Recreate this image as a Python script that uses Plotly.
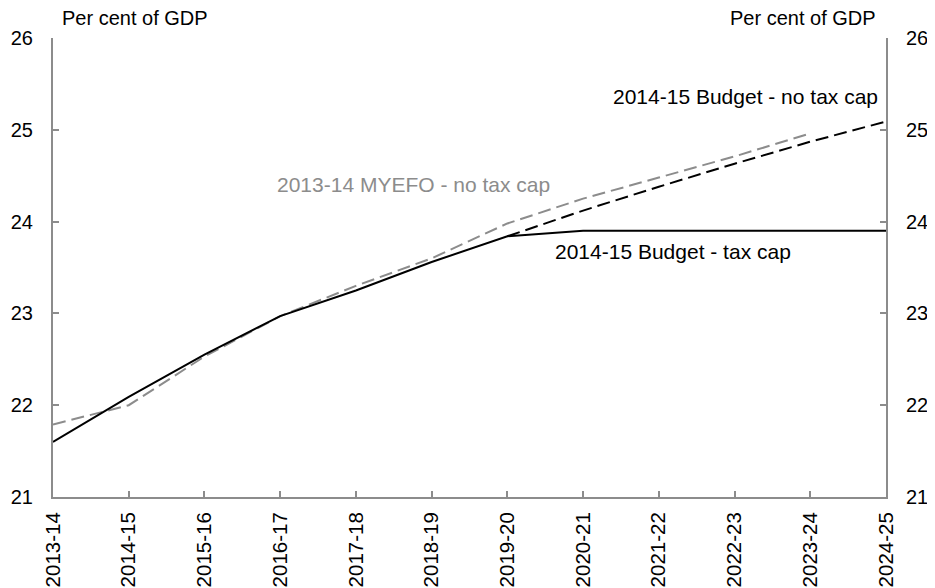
import plotly.graph_objects as go

years = ["2013-14", "2014-15", "2015-16", "2016-17", "2017-18", "2018-19",
         "2019-20", "2020-21", "2021-22", "2022-23", "2023-24", "2024-25"]

myefo_no_cap = [21.79, 22.00, 22.53, 22.97, 23.30, 23.60, 23.98, 24.25, 24.48, 24.71, 24.96, None]
budget_no_cap = [None, None, None, None, None, None, 23.84, 24.12, 24.38, 24.63, 24.87, 25.09]
budget_cap = [21.60, 22.09, 22.55, 22.97, 23.25, 23.56, 23.84, 23.90, 23.90, 23.90, 23.90, 23.90]

FONT = "Arial, Liberation Sans, sans-serif"
GREY = "#8c8c8c"
AXIS = "#8c8c8c"

fig = go.Figure()
fig.add_trace(go.Scatter(x=years, y=myefo_no_cap, mode="lines",
                         line=dict(color=GREY, width=2, dash="13px,6px"),
                         connectgaps=False, showlegend=False))
fig.add_trace(go.Scatter(x=years, y=budget_no_cap, mode="lines",
                         line=dict(color="black", width=2, dash="13px,6px"),
                         showlegend=False))
fig.add_trace(go.Scatter(x=years, y=budget_cap, mode="lines",
                         line=dict(color="black", width=2),
                         showlegend=False))
# invisible trace for right axis
fig.add_trace(go.Scatter(x=years, y=budget_cap, mode="lines", yaxis="y2",
                         line=dict(width=0), hoverinfo="skip", showlegend=False,
                         opacity=0))

fig.update_layout(
    width=935, height=588,
    margin=dict(l=45, r=57, t=30, b=99, autoexpand=False),
    paper_bgcolor="white", plot_bgcolor="white",
    font=dict(family=FONT, size=20, color="black"),
    xaxis=dict(type="category", range=[0, 11], showgrid=False, zeroline=False,
               showline=True, linecolor=AXIS, linewidth=2, automargin=False,
               ticks="inside", ticklen=6, tickcolor=AXIS, tickwidth=1.5,
               ticklabelstandoff=5, tickangle=-90, tickfont=dict(size=20.5)),
    yaxis=dict(range=[21, 26], dtick=1, showgrid=False, zeroline=False,
               showline=True, linecolor=AXIS, linewidth=2, automargin=False,
               ticks="inside", ticklen=6, tickcolor=AXIS, tickwidth=1.5,
               ticklabelstandoff=14, tickfont=dict(size=20)),
    yaxis2=dict(range=[21, 26], dtick=1, overlaying="y", side="right",
                showgrid=False, zeroline=False, automargin=False,
                showline=True, linecolor=AXIS, linewidth=2,
                ticks="inside", ticklen=6, tickcolor=AXIS, tickwidth=1.5,
                ticklabelstandoff=14, tickfont=dict(size=20)),
    annotations=[
        dict(text="Per cent of GDP", xref="paper", yref="paper", x=0.009, y=1.0,
             xanchor="left", yanchor="bottom", yshift=7, showarrow=False,
             font=dict(size=20)),
        dict(text="Per cent of GDP", xref="paper", yref="paper", x=0.99, y=1.0,
             xanchor="right", yanchor="bottom", yshift=7, showarrow=False,
             font=dict(size=20)),
        dict(text="2014-15 Budget - no tax cap", xref="x", yref="y", x=10.92, y=25.36,
             xanchor="right", yanchor="middle", showarrow=False, font=dict(size=21)),
        dict(text="2013-14 MYEFO - no tax cap", xref="x", yref="y", x=2.93, y=24.4,
             xanchor="left", yanchor="middle", showarrow=False,
             font=dict(size=21, color=GREY)),
        dict(text="2014-15 Budget - tax cap", xref="x", yref="y", x=6.6, y=23.67,
             xanchor="left", yanchor="middle", showarrow=False, font=dict(size=21)),
    ],
)

fig.write_html("out.html")
